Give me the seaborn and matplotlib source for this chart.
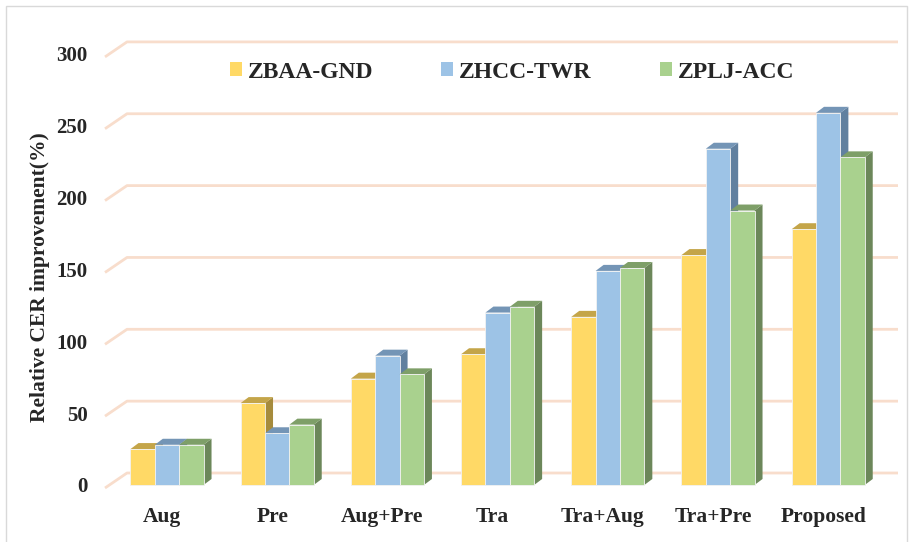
import pandas as pd
import matplotlib
matplotlib.use('Agg')
import matplotlib.pyplot as plt
from matplotlib.patches import Polygon, Rectangle, Patch
from matplotlib.transforms import ScaledTranslation
import seaborn as sns

# ---------------- data ----------------
methods = ['Aug', 'Pre', 'Aug+Pre', 'Tra', 'Tra+Aug', 'Tra+Pre', 'Proposed']
series = ['ZBAA-GND', 'ZHCC-TWR', 'ZPLJ-ACC']
zbaa_gnd = [25, 57, 74, 91, 117, 160, 178]
zhcc_twr = [28, 36, 90, 120, 149, 234, 259]
zplj_acc = [28, 42, 77, 124, 151, 191, 228]
y_ticks = [0, 50, 100, 150, 200, 250, 300]

df = pd.DataFrame({
    'method': methods * 3,
    'series': [series[0]] * 7 + [series[1]] * 7 + [series[2]] * 7,
    'value': zbaa_gnd + zhcc_twr + zplj_acc,
})

# colours: front / top / side
front = ['#FFD966', '#9DC3E6', '#A9D18E']
top = ['#C4A549', '#7495B6', '#7E9F68']
side = ['#A68B3C', '#61809F', '#6C875A']

sns.set_style('white')
plt.rcParams['font.family'] = ['Liberation Serif', 'DejaVu Serif']
plt.rcParams['font.weight'] = 'bold'

fig = plt.figure(figsize=(9.15, 5.42), dpi=100)
W, H = 915, 542
# axes placed in pixels: x 100..905, y 40..500
ax = fig.add_axes([100 / W, 1 - 500 / H, 805 / W, 460 / H])

sns.barplot(data=df, x='method', y='value', hue='series', hue_order=series,
            palette=front, saturation=1, width=0.663, ax=ax, legend=False,
            zorder=5, edgecolor='#F2F2F2', linewidth=0.6)

px_x = 110.2   # pixels per category
px_y = 1.437   # pixels per unit
ax.set_xlim((100 - 167) / px_x, (905 - 167) / px_x)
ax.set_ylim(-15 / px_y, 445 / px_y)

# back wall grid lines
for v in y_ticks:
    ax.plot([(105 - 167) / px_x, (127 - 167) / px_x, (898 - 167) / px_x],
            [v - 3 / px_y, v + 12 / px_y, v + 12 / px_y],
            color='#F8DDCC', lw=2, zorder=1, solid_capstyle='butt')

# fake 3d depth: top and side faces for every bar, drawn left to right
dx = 8 / px_x
dy = 6 / px_y
bars = []
for ci, cont in enumerate(ax.containers):
    for p in cont.patches:
        bars.append((p.get_x(), ci, p))
bars.sort(key=lambda t: t[0])
for k, (x0, ci, p) in enumerate(bars):
    x1 = x0 + p.get_width()
    h = p.get_height()
    z = 5 + 3 * k
    ax.add_patch(Polygon([(x1, 0), (x1 + dx, dy), (x1 + dx, h + dy), (x1, h)],
                         closed=True, facecolor=side[ci], edgecolor='none', zorder=z))
    ax.add_patch(Polygon([(x0, h), (x1, h), (x1 + dx, h + dy), (x0 + dx, h + dy)],
                         closed=True, facecolor=top[ci], edgecolor='none', zorder=z + 1))
    p.set_zorder(z + 2)

ax.set_yticks(y_ticks)
ax.set_yticklabels([str(t) for t in y_ticks])
ax.tick_params(axis='y', length=0, pad=9, labelsize=15)
ax.tick_params(axis='x', length=0, pad=5, labelsize=15.5)
for lab in ax.get_xticklabels() + ax.get_yticklabels():
    lab.set_fontweight('bold')
for lab in ax.get_xticklabels():
    lab.set_transform(lab.get_transform() + ScaledTranslation(-5 / 100, 0, fig.dpi_scale_trans))
ax.set_xlabel('')
ax.set_ylabel('')
sns.despine(ax=ax, left=True, bottom=True)

fig.text(40 / W, 1 - 277 / H, 'Relative CER improvement(%)', rotation=90,
         ha='center', va='center', fontsize=15.5, fontweight='bold')

handles = [Patch(facecolor=c, edgecolor='none') for c in front]
fig.legend(handles, series, loc='center', ncol=3, frameon=False,
           bbox_to_anchor=(512 / W, 1 - 72 / H), bbox_transform=fig.transFigure,
           prop={'size': 17, 'weight': 'bold'}, handlelength=0.5, handleheight=0.5,
           handletextpad=0.25, columnspacing=2.9)

# light border around the chart area
fig.patches.append(Rectangle((6 / W, -0.01), 901 / W, 1 - 6 / H + 0.01,
                             transform=fig.transFigure, fill=False,
                             edgecolor='#D9D9D9', lw=1))

fig.savefig('out.png', dpi=100)
